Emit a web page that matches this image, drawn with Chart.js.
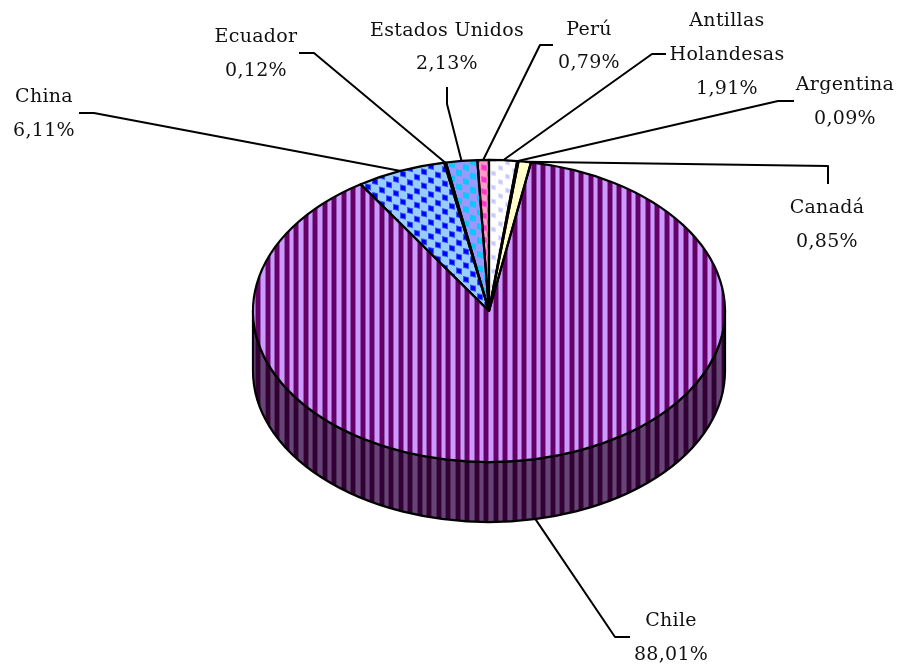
<!DOCTYPE html>
<html lang="es">
<head>
<meta charset="utf-8">
<title>Participación por país</title>
<script src="https://cdn.jsdelivr.net/npm/chart.js@4/dist/chart.umd.min.js"></script>
<style>
    html, body { margin: 0; padding: 0; background: #ffffff; }
    #grafico { display: block; }
</style>
</head>
<body>
<canvas id="grafico" width="899" height="666"></canvas>
<script>
// Datos, en sentido horario desde las 12
const paises = ["Antillas Holandesas", "Argentina", "Canadá", "Chile", "China", "Ecuador", "Estados Unidos", "Perú"];
const porcentajes = [1.91, 0.09, 0.85, 88.01, 6.11, 0.12, 2.13, 0.79];

// Donde va cada etiqueta: lineas de texto (y de cada una) y codo de la guia
const textoX = [727, 845, 827, 671, 44, 256, 447, 589];
const textoY = [[20, 54, 88], [84, 118], [207, 241], [620, 654], [96, 130], [36, 70], [30, 63], [29, 62]];
const guias = [
    [[666, 54], [652, 54]],
    [[794, 101], [778, 101]],
    [[828, 184], [828, 166]],
    [[630, 637], [615, 637]],
    [[79, 113], [94, 113]],
    [[299, 53], [314, 53]],
    [[447, 87], [447, 104]],
    [[553, 45], [540, 45]]
];

const ACHATADO = 0.64;   // el circulo se ve como elipse
const ALTO_PARED = 60;

function tramaRayas(oscuro, medio, claro) {
    const c = document.createElement('canvas');
    c.width = 19;
    c.height = 1;
    const x = c.getContext('2d');
    const rayas = [oscuro, oscuro, oscuro, oscuro, medio, claro, claro, claro, medio,
                   oscuro, oscuro, oscuro, oscuro, medio, claro, claro, claro, claro, medio];
    rayas.forEach((color, i) => {
        x.fillStyle = color;
        x.fillRect(i, 0, 1, 1);
    });
    return x.createPattern(c, 'repeat');
}

function tramaPuntos(fondo, halo, punto, paso, lado) {
    const c = document.createElement('canvas');
    c.width = paso;
    c.height = paso;
    const x = c.getContext('2d');
    x.fillStyle = fondo;
    x.fillRect(0, 0, paso, paso);
    [[1, 1], [1 + paso / 2, 1 + paso / 2]].forEach(([px, py]) => {
        x.fillStyle = halo;
        x.fillRect(px, py, lado, lado);
        x.fillStyle = punto;
        x.fillRect(px + 1, py + 1, lado - 2, lado - 2);
    });
    const p = x.createPattern(c, 'repeat');
    // compensa el achatado y deja las filas un poco inclinadas
    p.setTransform(new DOMMatrix().scale(1, 1 / ACHATADO).skewY(13));
    return p;
}

const colores = [
    tramaPuntos('#ffffff', '#e0e0ff', '#c4c8ff', 14, 5),
    '#000033',
    '#ffffcc',
    tramaRayas('#660066', '#9455b4', '#cc99ff'),
    tramaPuntos('#99ccff', '#3355ff', '#0000ff', 14, 6),
    '#000066',
    tramaPuntos('#9999ff', '#22bbff', '#00ccff', 14, 6),
    tramaPuntos('#ff99cc', '#ff55cc', '#ff33cc', 12, 6)
];
const paredChile = tramaRayas('#330033', '#4d2a55', '#664477');

const tortaPlugin = {
    id: 'torta',
    beforeDatasetsDraw(chart) {
        const ctx = chart.ctx;
        const arcos = chart.getDatasetMeta(0).data;
        const cx = arcos[0].x, cy = arcos[0].y;
        const rx = arcos[0].outerRadius, ry = rx * ACHATADO;

        // pared lateral: solo lo que cae en la mitad de abajo
        arcos.forEach(arco => {
            const ini = Math.max(arco.startAngle, 0);
            const fin = Math.min(arco.endAngle, Math.PI);
            if (fin <= ini) return;
            ctx.save();
            ctx.beginPath();
            ctx.ellipse(cx, cy, rx, ry, 0, ini, fin);
            ctx.ellipse(cx, cy + ALTO_PARED, rx, ry, 0, fin, ini, true);
            ctx.closePath();
            ctx.fillStyle = paredChile;
            ctx.fill();
            ctx.lineWidth = 2.2;
            ctx.strokeStyle = '#000000';
            ctx.stroke();
            ctx.restore();
        });

        ctx.save();
        ctx.translate(cx, cy);
        ctx.scale(1, ACHATADO);
        ctx.translate(-cx, -cy);
    },
    afterDatasetsDraw(chart) {
        const ctx = chart.ctx;
        ctx.restore();

        const arcos = chart.getDatasetMeta(0).data;
        const cx = arcos[0].x, cy = arcos[0].y;
        const rx = arcos[0].outerRadius, ry = rx * ACHATADO;

        ctx.save();
        ctx.strokeStyle = '#000000';
        ctx.lineWidth = 2.2;
        ctx.lineJoin = 'round';
        arcos.forEach(arco => {
            ctx.beginPath();
            ctx.moveTo(cx, cy);
            ctx.ellipse(cx, cy, rx, ry, 0, arco.startAngle, arco.endAngle);
            ctx.closePath();
            ctx.stroke();
        });

        // guias desde el centro angular de cada porcion hasta la etiqueta
        ctx.lineWidth = 2;
        arcos.forEach((arco, i) => {
            const medio = (arco.startAngle + arco.endAngle) / 2;
            const sx = cx + rx * Math.cos(medio);
            let sy = cy + ry * Math.sin(medio);
            if (Math.sin(medio) > 0) sy += ALTO_PARED;
            ctx.beginPath();
            ctx.moveTo(guias[i][0][0], guias[i][0][1]);
            ctx.lineTo(guias[i][1][0], guias[i][1][1]);
            ctx.lineTo(sx, sy);
            ctx.stroke();
        });

        // texto
        ctx.fillStyle = '#111111';
        ctx.font = '19px "DejaVu Serif"';
        ctx.letterSpacing = '0.3px';
        ctx.textAlign = 'center';
        ctx.textBaseline = 'middle';
        paises.forEach((pais, i) => {
            const valor = porcentajes[i].toFixed(2).replace('.', ',') + '%';
            const lineas = pais === 'Antillas Holandesas' ? ['Antillas', 'Holandesas', valor] : [pais, valor];
            lineas.forEach((linea, j) => ctx.fillText(linea, textoX[i], textoY[i][j] + 1));
        });
        ctx.restore();
    }
};

new Chart(document.getElementById('grafico'), {
    type: 'pie',
    data: {
        labels: paises,
        datasets: [{
            data: porcentajes,
            backgroundColor: colores,
            borderWidth: 0
        }]
    },
    options: {
        responsive: false,
        animation: false,
        layout: { padding: { left: 253, right: 174, top: 75, bottom: 119 } },
        plugins: {
            legend: { display: false },
            tooltip: { enabled: false }
        }
    },
    plugins: [tortaPlugin]
});
</script>
</body>
</html>
